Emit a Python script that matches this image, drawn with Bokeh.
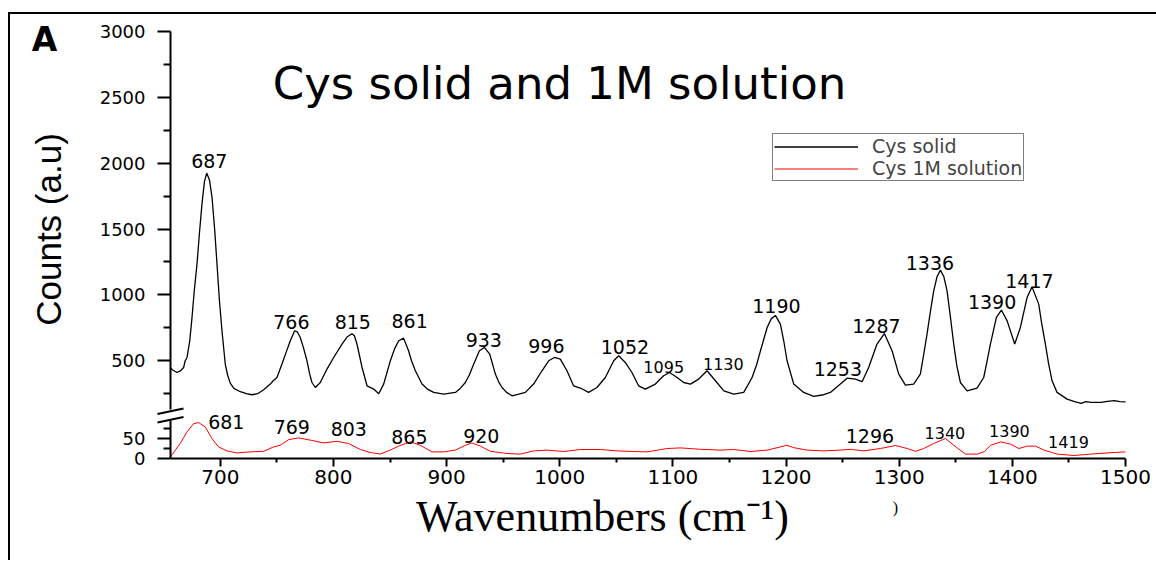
from bokeh.plotting import figure
from bokeh.layouts import column
from bokeh.models import (FixedTicker, Label, LabelSet, ColumnDataSource, Legend,
                          LegendItem, Range1d, Arrow, LinearAxis)
from bokeh.core.properties import value
from bokeh.embed import file_html
from bokeh.resources import INLINE
import math

# ---------------- data ----------------
solid_x = [656, 658, 661.7, 665, 667.6, 669, 670.6, 673, 675, 677, 679.4, 681.6, 683.8, 686, 688,
           690.5, 692.7, 695, 697.1, 699.3, 701.5, 704.4, 706.5, 708.8, 712, 717.7, 723, 728, 733,
           738.3, 744.2, 747, 750.1, 754.5, 758, 761.9, 765.7, 768, 770.7, 773.5, 776.6, 779, 781,
           784, 788.4, 794.3, 800.2, 807.6, 812, 816.4, 818.5, 820.8, 823, 825.3, 829.7, 835.6, 840,
           844.4, 847, 850.3, 854, 857.7, 862, 866.4, 869, 872.4, 878.3, 883, 888.6, 897.4, 907.8,
           912, 916.6, 920, 924, 929, 933.4, 938.1, 943.1, 946, 949, 953, 957.8, 963, 969.6, 976.9,
           984.3, 990.2, 995.2, 1000.5, 1006.4, 1012.2, 1018.2, 1025.5, 1032.9, 1040.3, 1047.7,
           1052.1, 1057.9, 1063.8, 1069.7, 1075.6, 1084.5, 1091.8, 1097.1, 1103.7, 1109.6, 1115.5,
           1122.8, 1130.2, 1137.6, 1145, 1153.8, 1162.6, 1170, 1174, 1177.4, 1183.3, 1187, 1190.7,
           1195, 1198, 1200.9, 1206.8, 1215.6, 1224.4, 1232, 1239.2, 1248, 1254, 1261.3, 1267.2,
           1273, 1280.4, 1286.9, 1293.7, 1299.6, 1305.5, 1312.8, 1318.7, 1321.5, 1324.6, 1327.5,
           1330.5, 1333.5, 1336.4, 1339.4, 1342.3, 1345.3, 1348.2, 1351, 1354.1, 1360, 1368.8,
           1374.7, 1377.5, 1380.6, 1385.9, 1390.3, 1395.4, 1402.1, 1407.1, 1413, 1417.4, 1423.3,
           1426, 1429.2, 1432, 1435.1, 1439.5, 1448.4, 1455, 1460.8, 1465, 1469.6, 1478.5, 1484,
           1490.2, 1495, 1500]
solid_counts = [445, 430, 411, 425, 449, 500, 525, 650, 828, 1030, 1234, 1470, 1689, 1860, 1925,
                1870, 1741, 1500, 1234, 950, 728, 475, 390, 330, 290, 265, 250, 242, 250,
                280, 323, 350, 373, 475, 560, 652, 728, 720, 677, 600, 500, 400, 335,
                297, 335, 437, 525, 627, 680, 705, 690, 627, 540, 449, 310, 285, 250,
                323, 400, 500, 590, 652, 672, 576, 500, 424, 323, 285, 260, 247, 260,
                290, 335, 390, 475, 576, 601, 551, 399, 340, 297, 260, 234, 245, 260, 323,
                424, 500, 525, 513, 424, 310, 293, 260, 297, 373, 500,
                538, 487, 411, 310, 285, 323, 386, 411, 373, 335, 323,
                361, 424, 348, 272, 247, 260, 373, 470, 576, 753, 820, 843,
                778, 650, 500, 323, 260, 230, 240, 260, 323, 368, 361, 341,
                449, 627, 707, 576, 399, 315, 323, 399, 540, 702, 870,
                1031, 1140, 1188, 1140, 1031, 830, 627, 460, 335, 272, 293,
                373, 490, 627, 829, 885, 803, 627, 753, 980, 1061, 930,
                780, 627, 480, 348, 260, 209, 190, 176, 190, 184, 184, 192,
                197, 190, 188]

solution_x = [656, 660, 664.6, 670.5, 676.4, 680.8, 686.7, 692.6, 698.5, 705.9, 714.7, 726.5,
              738.3, 747.1, 753, 760.4, 769.2, 779.6, 791.3, 803.1, 813.4, 823.7, 832.6, 841.4,
              850.3, 857.6, 868, 876.8, 887.1, 897.4, 907.7, 916.6, 922.3, 929.8, 938.7, 953.4,
              965.3, 977, 988.8, 1003.5, 1018.3, 1036, 1050.7, 1065.5, 1077.3, 1094.9, 1106.7,
              1124.3, 1142, 1153.8, 1168.5, 1183.3, 1200.9, 1207, 1218.6, 1233.3, 1248.1, 1256.9,
              1268.7, 1283.4, 1296.7, 1307, 1314.4, 1321.7, 1330.5, 1340.9, 1348.3, 1358.6, 1369,
              1374.9, 1380.7, 1389.6, 1398.4, 1405.8, 1413.2, 1420.5, 1427.9, 1439.7, 1454.4,
              1469.2, 1483.9, 1500]
solution_counts = [4, 20, 37.5, 66, 87, 90, 79, 50, 29, 19, 14, 16.5,
                   18, 29, 33, 47, 51.5, 46, 39, 43, 37.5, 22.5, 15, 11,
                   21, 31, 41.5, 33, 16.5, 16.5, 21, 33, 39, 31, 18, 12.5,
                   11, 19, 21, 17.5, 22.5, 22.5, 19, 17.5, 16.5, 25, 26.5,
                   23, 21, 22.5, 17.5, 21, 33, 27, 21, 19, 21, 23,
                   19, 25, 32.5, 25, 18, 25, 37.5, 50, 33, 11, 11,
                   16.5, 33, 41.5, 36, 25, 31, 31, 21, 11, 7.5,
                   11, 14, 16.5]

# peak labels (text, x position, y position)
solid_big_text = ["687", "766", "815", "861", "933", "996", "1052", "1190", "1253", "1287",
                  "1336", "1390", "1417"]
solid_big_x = [690.3, 762.8, 817.1, 867.3, 932.9, 988.2, 1057.6, 1191.5, 1245.8, 1279.9,
               1327.2, 1382.1, 1415.1]
solid_big_y = [2017, 794, 794, 802, 661, 612, 608, 916, 441, 764, 1246, 950, 1102]
solid_small_text = ["1095", "1130"]
solid_small_x = [1091.9, 1144.6]
solid_small_y = [456, 475]

sol_big_text = ["681", "769", "803", "865", "920", "1296"]
sol_big_x = [705.3, 763.2, 813.6, 867.1, 930.7, 1274.1]
sol_big_y = [92.5, 78, 75, 55, 57.5, 56]
sol_small_text = ["1340", "1390", "1419"]
sol_small_x = [1340.4, 1397.4, 1449.6]
sol_small_y = [64, 69, 41]

x_ticks = [700, 800, 900, 1000, 1100, 1200, 1300, 1400, 1500]
x_minor = [750, 850, 950, 1050, 1150, 1250, 1350, 1450]
x_extent = (656, 1500)
upper_ticks = [500, 1000, 1500, 2000, 2500, 3000]
upper_minor = [250, 750, 1250, 1750, 2250, 2750]
upper_extent = (130, 3000)
lower_ticks = [0, 50]
lower_minor = [25, 75]
lower_extent = (0, 95)

title_text = "Cys solid and 1M solution"
panel_tag = "A"
y_title = "Counts (a.u)"
x_title = "Wavenumbers (cm\u207b\u00b9)"
legend_labels = ["Cys solid", "Cys 1M solution"]

SANS = "DejaVu Sans"

# ---------------- figure: one frame, two y scales (broken axis) ----------------
p = figure(width=1146, height=546,
           x_range=Range1d(514.6, 1527.4), y_range=Range1d(-1016.5, 3129.1),
           output_backend="svg", toolbar_location=None,
           x_axis_location=None, y_axis_location=None, min_border=0)
p.extra_y_ranges = {"lower": Range1d(-255, 1110)}
p.grid.visible = False
p.outline_line_color = None


def style_axis(ax, tick_out, minor_out, standoff, size):
    ax.axis_line_width = 2
    ax.major_tick_line_width = 2
    ax.minor_tick_line_width = 2
    ax.major_tick_out = tick_out
    ax.major_tick_in = 0
    ax.minor_tick_out = minor_out
    ax.minor_tick_in = 0
    ax.major_label_standoff = standoff
    ax.major_label_text_font = SANS
    ax.major_label_text_font_size = size
    ax.major_label_text_color = "black"
    ax.axis_line_color = "black"


ay_up = LinearAxis(fixed_location=x_extent[0], bounds=upper_extent,
                   ticker=FixedTicker(ticks=upper_ticks, minor_ticks=upper_minor))
style_axis(ay_up, 13, 7, 12, "18px")
p.add_layout(ay_up, "left")

ay_low = LinearAxis(y_range_name="lower", fixed_location=x_extent[0], bounds=lower_extent,
                    ticker=FixedTicker(ticks=lower_ticks, minor_ticks=lower_minor))
style_axis(ay_low, 13, 7, 12, "18px")
p.add_layout(ay_low, "left")

ax_x = LinearAxis(y_range_name="lower", fixed_location=0, bounds=x_extent,
                  ticker=FixedTicker(ticks=x_ticks, minor_ticks=x_minor))
style_axis(ax_x, 8, 4, 3, "20px")
p.add_layout(ax_x, "below")

r_solid = p.line(solid_x, solid_counts, line_color="black", line_width=1.3)
r_sol = p.line(solution_x, solution_counts, line_color="#ff0000", line_width=1,
               y_range_name="lower")

legend = Legend(items=[LegendItem(label=legend_labels[0], renderers=[r_solid]),
                       LegendItem(label=legend_labels[1], renderers=[r_sol])],
                location=(762, 379), padding=1, spacing=0, margin=0,
                glyph_width=84, glyph_height=19, label_height=19, label_standoff=14,
                label_text_font=SANS, label_text_font_size="19px",
                border_line_color="black", border_line_width=1,
                background_fill_color="white")
p.add_layout(legend)


def labelset(xs, ys, texts, size, rng="default"):
    src = ColumnDataSource(dict(x=xs, y=ys, text=texts))
    p.add_layout(LabelSet(x="x", y="y", text="text", source=src, y_range_name=rng,
                          text_align="center", text_baseline="middle", text_font=value(SANS),
                          text_font_size=size, text_color="black"))


labelset(solid_big_x, solid_big_y, solid_big_text, "19px")
labelset(solid_small_x, solid_small_y, solid_small_text, "16px")
labelset(sol_big_x, sol_big_y, sol_big_text, "19px", "lower")
labelset(sol_small_x, sol_small_y, sol_small_text, "16px", "lower")

p.add_layout(Label(x=549, y=477, x_units="screen", y_units="screen", text=title_text,
                   text_align="center", text_baseline="middle", text_font=SANS,
                   text_font_size="45px", text_color="black"))
p.add_layout(Label(x=34, y=521, x_units="screen", y_units="screen", text=panel_tag,
                   text_align="center", text_baseline="middle", text_font=SANS,
                   text_font_style="bold", text_font_size="33px", text_color="black"))
p.add_layout(Label(x=38, y=331, x_units="screen", y_units="screen", text=y_title,
                   angle=math.pi / 2, text_align="center", text_baseline="middle",
                   text_font="Liberation Sans",
                   text_font_size="35px", text_color="black"))
p.add_layout(Label(x=592, y=44, x_units="screen", y_units="screen", text=x_title,
                   text_align="center", text_baseline="middle", text_font="Liberation Serif",
                   text_font_size="44px", text_color="black"))
p.add_layout(Label(x=885, y=53, x_units="screen", y_units="screen", text=")",
                   text_align="center", text_baseline="middle", text_font="Liberation Serif",
                   text_font_size="16px", text_color="black"))

# axis break marks, drawn across the gap of the broken y axis
for y0 in (111.25, 90):
    p.add_layout(Arrow(start=None, end=None, x_start=644.5, y_start=y0, x_end=667.5,
                       y_end=y0 + 14, y_range_name="lower",
                       line_color="black", line_width=2))

layout = column(p, margin=(12, 0, 0, 8),
                styles={"border-left": "2px solid black", "border-top": "2px solid black"})

open("out.html", "w").write(file_html(layout, INLINE))
